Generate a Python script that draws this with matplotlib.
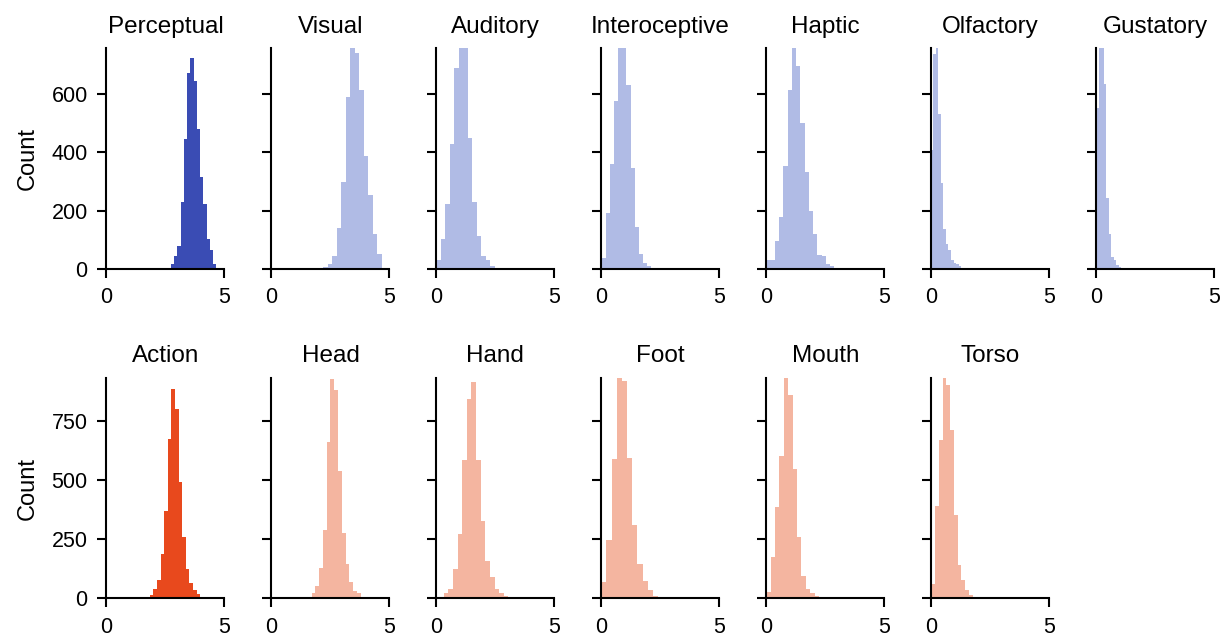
import numpy as np
import matplotlib.pyplot as plt

plt.rcParams['font.family'] = ['Liberation Sans', 'DejaVu Sans']

# Binned rating counts: first bin edge, bin width and counts per bin
perc_names = ['Perceptual', 'Visual', 'Auditory', 'Interoceptive', 'Haptic', 'Olfactory', 'Gustatory']
perc_starts = [2.59, 2.19, 0.0, 0.0, 0.0, -0.04, 0.0]
perc_widths = [0.138, 0.192, 0.19, 0.177, 0.18, 0.11, 0.107]
perceptual = [3, 15, 44, 77, 229, 445, 673, 725, 647, 480, 314, 223, 103, 64, 17]
visual = [6, 17, 43, 139, 300, 592, 800, 743, 615, 387, 254, 121, 49]
auditory = [29, 102, 223, 430, 691, 800, 790, 449, 229, 113, 43, 29, 8, 3]
interoceptive = [38, 191, 361, 578, 820, 800, 632, 345, 142, 52, 21, 9, 2]
haptic = [29, 31, 95, 179, 353, 616, 800, 699, 503, 333, 200, 121, 46, 43, 17, 8, 3, 3, 2, 2]
olfactory = [410, 740, 800, 532, 295, 136, 84, 66, 31, 21, 17, 9, 3, 2, 1, 1, 1, 0, 1]
gustatory = [553, 800, 780, 634, 243, 121, 40, 29, 12, 6, 3]

act_names = ['Action', 'Head', 'Hand', 'Foot', 'Mouth', 'Torso']
act_starts = [1.68, 1.54, 0.114, 0.0, 0.0, 0.0]
act_widths = [0.153, 0.16, 0.196, 0.218, 0.186, 0.16]
action = [3, 14, 38, 78, 188, 371, 676, 888, 800, 491, 262, 125, 64, 35, 17, 3]
head = [7, 24, 52, 130, 290, 661, 928, 881, 538, 279, 146, 68, 31, 24, 3]
hand = [7, 24, 40, 125, 272, 585, 846, 918, 588, 326, 160, 89, 42, 24, 10, 3]
foot = [71, 248, 591, 950, 921, 595, 312, 144, 74, 35, 11, 3]
mouth = [28, 174, 387, 605, 950, 860, 550, 262, 96, 40, 21, 11, 4, 3]
torso = [60, 390, 670, 950, 905, 715, 355, 140, 77, 34, 15, 6, 3]

perc_counts = [perceptual, visual, auditory, interoceptive, haptic, olfactory, gustatory]
act_counts = [action, head, hand, foot, mouth, torso]

dark_blue, light_blue = '#3a4cb4', '#b0bbe5'
dark_red, light_red = '#e8491d', '#f4b5a0'

fig, axes = plt.subplots(2, 7, figsize=(12.24, 6.38), dpi=100)
fig.subplots_adjust(left=0.087, right=0.992, top=0.925, bottom=0.062,
                    wspace=0.398, hspace=0.493)


def draw_hist(ax, counts, start, width, color, title):
    counts = np.asarray(counts)
    lefts = start + width * np.arange(len(counts))
    ax.bar(lefts, counts, width=width, align='edge', color=color, linewidth=0)
    ax.set_title(title, fontsize=17.5, pad=11)
    ax.set_xlim(0, 5)
    ax.set_xticks([0, 5])
    for side in ['top', 'right']:
        ax.spines[side].set_visible(False)
    for side in ['left', 'bottom']:
        ax.spines[side].set_linewidth(1.5)
    ax.tick_params(width=1.5, length=6.5, labelsize=15.5, pad=7)


for i, ax in enumerate(axes[0]):
    color = dark_blue if i == 0 else light_blue
    draw_hist(ax, perc_counts[i], perc_starts[i], perc_widths[i], color, perc_names[i])
    ax.set_ylim(0, 760)
    ax.set_yticks([0, 200, 400, 600])
    if i > 0:
        ax.set_yticklabels([])

for i, ax in enumerate(axes[1][:6]):
    color = dark_red if i == 0 else light_red
    draw_hist(ax, act_counts[i], act_starts[i], act_widths[i], color, act_names[i])
    ax.set_ylim(0, 935)
    ax.set_yticks([0, 250, 500, 750])
    if i > 0:
        ax.set_yticklabels([])

axes[1][6].axis('off')
axes[0][0].set_ylabel('Count', fontsize=17, labelpad=9)
axes[1][0].set_ylabel('Count', fontsize=17, labelpad=9)

plt.savefig('out.png', dpi=100)
